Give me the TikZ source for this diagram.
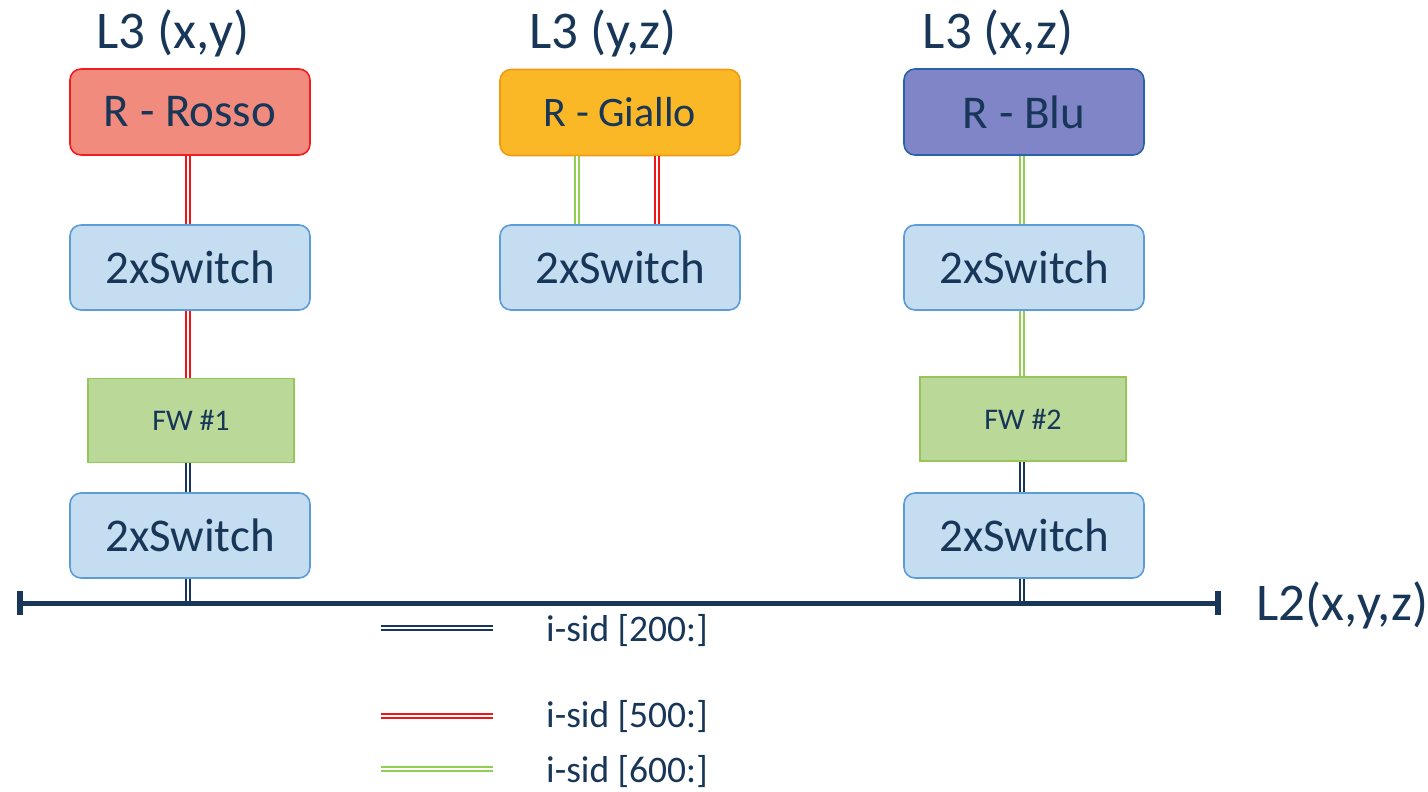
\documentclass[tikz,border=0pt]{standalone}
\usepackage{fontspec}
\setmainfont{Carlito}
\definecolor{navy}{RGB}{23,54,88}
\definecolor{rossofill}{RGB}{240,139,125}
\definecolor{rossoline}{RGB}{240,30,30}
\definecolor{giallofill}{RGB}{250,183,38}
\definecolor{gialloline}{RGB}{240,155,20}
\definecolor{blufill}{RGB}{128,133,200}
\definecolor{bluline}{RGB}{40,100,170}
\definecolor{swfill}{RGB}{197,221,241}
\definecolor{swline}{RGB}{92,157,216}
\definecolor{fwfill}{RGB}{186,216,151}
\definecolor{fwline}{RGB}{150,198,90}
\definecolor{lred}{RGB}{240,20,20}
\definecolor{lgreen}{RGB}{146,206,80}
\tikzset{
  box/.style={draw, line width=1.6pt, rounded corners=11pt, minimum width=240pt, minimum height=86pt, text=navy, font=\fontsize{47}{49}\selectfont, inner sep=0pt},
  rbox/.style={box, fill=rossofill, draw=rossoline},
  gbox/.style={box, fill=giallofill, draw=gialloline, font=\fontsize{42}{44}\selectfont},
  bbox/.style={box, fill=blufill, draw=bluline},
  swbox/.style={box, fill=swfill, draw=swline, minimum height=85pt},
  fwbox/.style={draw=fwline, fill=fwfill, line width=1.6pt, minimum width=206pt, minimum height=84pt, text=navy, font=\fontsize{30}{32}\selectfont, inner sep=0pt},
  lbl/.style={text=navy, font=\fontsize{53}{55}\selectfont, inner sep=0pt},
  leg/.style={text=navy, font=\fontsize{37.5}{39}\selectfont, inner sep=0pt, anchor=west},
  dlink/.style={line width=1.8pt, double=white, double distance=2.2pt},
  darklink/.style={dlink, draw=navy},
  redlink/.style={dlink, draw=lred},
  greenlink/.style={dlink, draw=lgreen},
}
\begin{document}
\begin{tikzpicture}[x=1pt,y=-1pt]
\useasboundingbox (0,0) rectangle (1428,792);
% L3 labels
\node[lbl] (l3a) at (173,33) {L3 (x,y)};
\node[lbl] (l3b) at (603,33) {L3 (y,z)};
\node[lbl] (l3c) at (998,33) {L3 (x,z)};
% routers
\node[rbox] (rosso) at (190,112) {R - Rosso};
\node[gbox] (giallo) at (620,112.5) {R - Giallo};
\node[bbox] (blu) at (1024,112) {R - Blu};
% switches
\node[swbox] (sw1) at (190,267.5) {2xSwitch};
\node[swbox] (sw2) at (620,267.5) {2xSwitch};
\node[swbox] (sw3) at (1024,267.5) {2xSwitch};
% firewalls
\node[fwbox] (fw1) at (191,420.5) {FW \#1};
\node[fwbox] (fw2) at (1023,419) {FW \#2};
% lower switches
\node[swbox] (sw4) at (190,535.5) {2xSwitch};
\node[swbox] (sw5) at (1024,535.5) {2xSwitch};
% L2 bar coordinates
\coordinate (barL) at (20,603);
\coordinate (barR) at (1218,603);
% links left column
\draw[redlink] ([xshift=-2]rosso.south) -- ([xshift=-2]sw1.north);
\draw[redlink] ([xshift=-2]sw1.south) -- ([xshift=-3]fw1.north);
\draw[darklink] ([xshift=-3]fw1.south) -- ([xshift=-2]sw4.north);
\coordinate (b1) at ([xshift=-2]sw4.south |- barL);
\draw[darklink] ([xshift=-2]sw4.south) -- (b1);
% links middle
\draw[greenlink] ([xshift=-43]giallo.south) -- ([xshift=-43]sw2.north);
\draw[redlink] ([xshift=37]giallo.south) -- ([xshift=37]sw2.north);
% links right column
\draw[greenlink] ([xshift=-2]blu.south) -- ([xshift=-2]sw3.north);
\draw[greenlink] ([xshift=-2]sw3.south) -- ([xshift=-1]fw2.north);
\draw[darklink] ([xshift=-1]fw2.south) -- ([xshift=-2]sw5.north);
\coordinate (b2) at ([xshift=-2]sw5.south |- barL);
\draw[darklink] ([xshift=-2]sw5.south) -- (b2);
% L2 bar
\draw[navy, line width=5pt] (barL) -- (barR);
\draw[navy, line width=6pt] ([yshift=-12]barL) -- ([yshift=12]barL);
\draw[navy, line width=6pt] ([yshift=-12]barR) -- ([yshift=12]barR);
\node[lbl, anchor=west] (l2) at (1256,605) {L2(x,y,z)};
% legend
\coordinate (lg1a) at (381,628); \coordinate (lg1b) at (493,628);
\coordinate (lg2a) at (381,716); \coordinate (lg2b) at (493,716);
\coordinate (lg3a) at (381,769); \coordinate (lg3b) at (493,769);
\draw[darklink] (lg1a) -- (lg1b);
\draw[redlink] (lg2a) -- (lg2b);
\draw[greenlink] (lg3a) -- (lg3b);
\node[leg] (t1) at (546,630) {i-sid [200:]};
\node[leg] (t2) at (546,716) {i-sid [500:]};
\node[leg] (t3) at (546,771) {i-sid [600:]};
\end{tikzpicture}
\end{document}
